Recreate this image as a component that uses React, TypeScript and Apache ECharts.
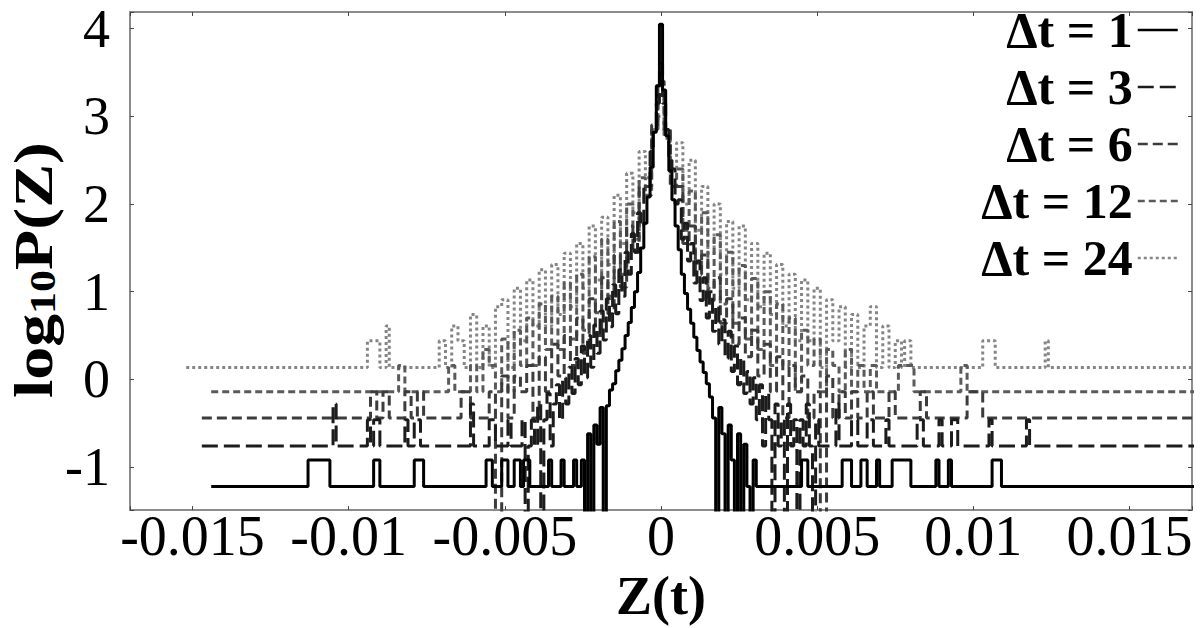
import React, { useEffect, useRef } from "react";
import * as echarts from "echarts";

// ---------- axis ranges ----------
const X_MIN = -0.017;
const X_MAX = 0.017;
const Y_MIN = -1.49;
const Y_MAX = 4.19;

// ---------- series names ----------
const seriesNames = ["Δt = 1", "Δt = 3", "Δt = 6", "Δt = 12", "Δt = 24"];

// ---------- Δt = 1 ----------
const dt1Left = [[-0.0144,-1.22],[-0.0113,-0.92],[-0.0106,-1.22],[-0.0092,-0.92],[-0.0090,-1.22],[-0.0079,-0.92],[-0.0076,-1.22],[-0.0056,-0.92],[-0.0054,-1.22],[-0.0051,-0.92],[-0.0049,-1.22],[-0.0047,-0.92],[-0.0045,-1.22],[-0.0044,-0.92],[-0.0042,-1.22],[-0.0036,-0.92],[-0.0035,-1.22],[-0.0032,-0.92],[-0.0031,-1.22],[-0.0028,-0.92],[-0.0027,-1.22]];
const dt1Start = -0.0025;
const dt1Bin = 0.0001;
const dt1Dense = [
  -0.92,-2,-0.62,-2,-0.52,-0.74,-0.32,-2,-0.3,-0.12,
  -0.05,0.1,0.22,0.35,0.5,0.65,0.82,1.0,1.22,1.5,
  1.78,2.08,2.42,2.82,3.35,4.05,3.3,2.78,2.38,2.05,
  1.75,1.48,1.2,0.98,0.8,0.64,0.48,0.33,0.2,0.08,
  -0.05,-0.2,-0.44,-2,-0.32,-0.62,-2,-0.52,-0.92,-2,
  -0.62,-2,-0.74,-1.22,-2,-0.92,-1.22];
const dt1Right = [[0.0032,-1.22],[0.0045,-0.92],[0.0047,-1.22],[0.0058,-0.92],[0.0061,-1.22],[0.0064,-0.92],[0.0066,-1.22],[0.0069,-0.92],[0.0070,-1.22],[0.0074,-0.92],[0.0080,-1.22],[0.0088,-0.92],[0.0089,-1.22],[0.0092,-0.92],[0.0093,-1.22],[0.0106,-0.92],[0.0109,-1.22],[0.0175,-1.22]];

// ---------- Δt = 3 ----------
const dt3Left = [[-0.0147,-0.76],[-0.0105,-0.28],[-0.0104,-0.76],[-0.0094,-0.46],[-0.0093,-0.76],[-0.0092,-0.46],[-0.0090,-0.76],[-0.0082,-0.46],[-0.0081,-0.76],[-0.0079,-0.46],[-0.0077,-0.76],[-0.0061,-0.28],[-0.0060,-0.76],[-0.0055,-0.46],[-0.0053,-0.76],[-0.0049,-0.46],[-0.0048,-0.76]];
const dt3Start = -0.0045;
const dt3Bin = 0.0001;
const dt3Dense = [
  -0.76,-0.46,-2,-0.76,-0.46,-0.76,-0.28,-2,-0.46,-0.16,
  -0.76,-0.28,-0.06,-0.46,0.02,-0.28,0.14,-0.16,0.24,-0.06,
  0.38,0.02,0.5,0.14,0.62,0.3,0.78,0.45,0.92,0.6,
  1.08,0.75,1.25,0.95,1.45,1.2,1.66,1.45,1.9,1.75,
  2.2,2.2,2.6,2.85,3.15,3.6,3.15,2.85,2.5,2.4,
  2.0,2.05,1.6,1.78,1.35,1.55,1.1,1.35,0.9,1.16,
  0.7,1.0,0.55,0.84,0.4,0.68,0.24,0.55,0.09,0.38,
  -0.06,0.24,-0.16,0.09,-0.28,0.02,-0.46,-0.06,-0.76,-0.16,
  -0.46,-2,-0.28,-0.76,-0.46,-2,-0.28,-0.76,-0.46,-2,
  -0.46,-0.76,-0.28,-0.76,-2,-0.46];
const dt3Right = [[0.00505,-0.76],[0.0056,-0.28],[0.0057,-0.76],[0.0061,-0.46],[0.0063,-0.76],[0.0066,-0.46],[0.0068,-0.76],[0.0072,-0.46],[0.0073,-0.76],[0.0082,-0.46],[0.0084,-0.76],[0.0089,-0.46],[0.0090,-0.76],[0.0093,-0.46],[0.0095,-0.76],[0.0105,-0.46],[0.0106,-0.76],[0.0117,-0.46],[0.0118,-0.76],[0.0175,-0.76]];

// ---------- Δt = 6 ----------
const dt6Left = [[-0.0147,-0.44],[-0.0093,-0.14],[-0.0091,-0.44],[-0.0089,-0.14],[-0.0087,-0.44],[-0.0082,-0.14],[-0.0080,-0.44],[-0.0078,-0.14],[-0.0076,-0.44],[-0.0064,-0.14],[-0.0061,-0.44]];
const dt6Start = -0.0056;
const dt6Bin = 0.0002;
const dt6Dense = [
  -0.44,-0.14,-2,0.04,-0.44,0.04,-0.14,0.16,-0.44,0.26,
  -0.14,0.4,0.04,0.5,0.16,0.7,0.3,0.92,0.5,1.16,
  0.75,1.42,1.05,1.75,1.45,2.2,2.2,2.9,3.4,2.85,
  2.2,2.2,1.55,1.75,1.2,1.42,0.9,1.16,0.64,0.92,
  0.4,0.7,0.26,0.56,0.04,0.4,-0.14,0.26,-0.44,0.16,
  -0.14,0.04,-0.44,-0.14,-2,0.04,-0.44,-0.14,-0.44,-0.14];
const dt6Right = [[0.0063,-0.44],[0.0066,-0.14],[0.0068,-0.44],[0.0073,-0.14],[0.0075,-0.44],[0.0083,-0.14],[0.0085,-0.44],[0.0098,-0.14],[0.0103,-0.44],[0.0175,-0.44]];

// ---------- Δt = 12 ----------
const dt12Left = [[-0.0144,-0.14],[-0.0084,0.16],[-0.0082,-0.14],[-0.0068,0.16],[-0.0066,-0.14]];
const dt12Start = -0.0060;
const dt12Bin = 0.0002;
const dt12Dense = [
  0.16,-0.14,0.34,0.16,-0.14,0.46,-0.14,0.56,0.16,0.7,
  0.16,0.86,0.34,0.95,0.34,1.1,0.46,1.2,0.56,1.4,
  0.76,1.6,0.95,1.8,1.2,2.0,1.6,2.3,2.1,2.85,
  3.25,2.75,2.2,2.4,1.7,2.15,1.3,1.9,1.04,1.65,
  0.86,1.45,0.64,1.3,0.46,1.15,0.34,1.0,0.16,0.86,
  0.16,0.7,-0.14,0.56,0.16,0.46,-0.14,0.34,0.16,-0.14,
  0.34,-0.14,0.16,-0.14,0.16];
const dt12Right = [[0.0069,-0.14],[0.0076,0.16],[0.0081,-0.14],[0.0096,0.16],[0.0098,-0.14],[0.0175,-0.14]];

// ---------- Δt = 24 ----------
const dt24Left = [[-0.0152,0.135],[-0.0094,0.44],[-0.0090,0.135],[-0.0088,0.61],[-0.0087,0.135]];
const dt24Start = -0.0070;
const dt24Bin = 0.0002;
const dt24Dense = [
  0.44,0.135,0.61,0.44,0.135,0.74,0.135,0.61,0.135,0.83,
  0.91,0.135,1.04,0.44,1.135,0.61,1.25,0.61,1.31,0.74,
  1.44,0.83,1.55,1.04,1.75,1.135,1.85,1.31,2.1,1.55,
  2.35,1.9,2.6,2.3,2.85,3.0,2.8,2.4,2.7,2.0,
  2.5,1.7,2.2,1.44,2.0,1.2,1.8,1.04,1.75,0.91,
  1.55,0.83,1.44,0.74,1.31,0.61,1.2,0.44,1.135,0.44,
  1.04,0.135,0.91,0.44,0.83,0.135,0.74,0.135,0.61,0.83,
  0.135,0.61,0.135,0.44];
const dt24Right = [[0.0077,0.135],[0.0078,0.44],[0.0080,0.135],[0.0103,0.44],[0.0107,0.135],[0.0123,0.44],[0.0124,0.135],[0.0175,0.135]];

// ---------- styles ----------
const seriesColors = ["#000000", "#1c1c1c", "#3c3c3c", "#5a5a5a", "#858585"];
const seriesDash: any[] = ["solid", [16, 6], [10, 5], [7, 4], [3, 3]];

function build(left: number[][], start: number, bin: number, dense: number[], right: number[][]) {
  const out: number[][] = left.map((p) => [p[0], p[1]]);
  dense.forEach((v, i) => out.push([+(start - bin / 2 + i * bin).toFixed(6), v]));
  right.forEach((p) => out.push([p[0], p[1]]));
  return out;
}

const SERIF = "'Liberation Serif', 'Times New Roman', serif";

export default function App() {
  const ref = useRef<HTMLDivElement>(null);
  useEffect(() => {
    document.body.style.margin = "0";
    document.body.style.overflow = "hidden";
    const chart = echarts.init(ref.current as HTMLDivElement, null, { renderer: "svg" });
    const datasets = [
      build(dt1Left, dt1Start, dt1Bin, dt1Dense, dt1Right),
      build(dt3Left, dt3Start, dt3Bin, dt3Dense, dt3Right),
      build(dt6Left, dt6Start, dt6Bin, dt6Dense, dt6Right),
      build(dt12Left, dt12Start, dt12Bin, dt12Dense, dt12Right),
      build(dt24Left, dt24Start, dt24Bin, dt24Dense, dt24Right),
    ];
    const order = [4, 3, 2, 1, 0];
    const series = order.map((k) => ({
      name: seriesNames[k],
      type: "line",
      step: "end",
      symbol: "none",
      data: datasets[k],
      color: seriesColors[k],
      lineStyle: { color: seriesColors[k], width: 3, type: seriesDash[k] },
      z: 10 - k,
    }));
    const xFmt = (v: number) => {
      const r = v / 0.005;
      if (Math.abs(r - Math.round(r)) > 1e-6 || Math.abs(v) > 0.0165) return "";
      return v === 0 ? "0" : String(+v.toFixed(3));
    };
    const yFmt = (v: number) => (Math.abs(v - Math.round(v)) < 1e-6 ? String(Math.round(v)) : "");
    const frame = { show: true, onZero: false, lineStyle: { color: "#8c8c8c", width: 2 } };
    const tick = { show: true, inside: true, length: 4, lineStyle: { color: "#444", width: 1 } };
    chart.setOption({
      animation: false,
      backgroundColor: "#ffffff",
      grid: { left: 130, right: 12, top: 12, bottom: 104, containLabel: false },
      legend: {
        orient: "vertical",
        right: 20,
        top: 0,
        align: "right",
        itemWidth: 40,
        itemHeight: 14,
        itemGap: 7,
        data: seriesNames,
        itemStyle: { opacity: 0, borderWidth: 0 },
        lineStyle: { width: 2.5 },
        textStyle: { fontFamily: SERIF, fontWeight: "bold", fontSize: 50, color: "#000", lineHeight: 50 },
      },
      xAxis: [
        {
          type: "value",
          min: X_MIN,
          max: X_MAX,
          splitNumber: 7,
          position: "bottom",
          axisLine: frame,
          axisTick: tick,
          splitLine: { show: false },
          axisLabel: { fontFamily: SERIF, fontSize: 56, lineHeight: 52, color: "#000", margin: 0, formatter: xFmt },
          name: "Z(t)",
          nameLocation: "middle",
          nameGap: 44,
          nameTextStyle: { fontFamily: SERIF, fontWeight: "bold", fontSize: 54, color: "#000" },
        },
        {
          type: "value",
          min: X_MIN,
          max: X_MAX,
          splitNumber: 7,
          position: "top",
          axisLine: frame,
          axisTick: tick,
          splitLine: { show: false },
          axisLabel: { show: false },
        },
      ],
      yAxis: [
        {
          type: "value",
          min: Y_MIN,
          max: Y_MAX,
          position: "left",
          axisLine: frame,
          axisTick: tick,
          splitLine: { show: false },
          axisLabel: { fontFamily: SERIF, fontSize: 54, lineHeight: 44, color: "#000", margin: 20, formatter: yFmt },
        },
        {
          type: "value",
          min: Y_MIN,
          max: Y_MAX,
          position: "right",
          axisLine: frame,
          axisTick: tick,
          splitLine: { show: false },
          axisLabel: { show: false },
        },
      ],
      graphic: [
        {
          type: "text",
          x: 34,
          y: 270,
          rotation: Math.PI / 2,
          scaleX: 1.22,
          style: {
            text: "{a|log}{s|10}{a|P(Z)}",
            align: "center",
            verticalAlign: "middle",
            rich: {
              a: { fontFamily: SERIF, fontWeight: "bold", fontSize: 54, fill: "#000", verticalAlign: "bottom" },
              s: { fontFamily: SERIF, fontWeight: "bold", fontSize: 36, fill: "#000", verticalAlign: "bottom" },
            },
          },
        },
      ],
      series,
    });
    return () => chart.dispose();
  }, []);
  return <div ref={ref} style={{ width: 1204, height: 628 }} />;
}
